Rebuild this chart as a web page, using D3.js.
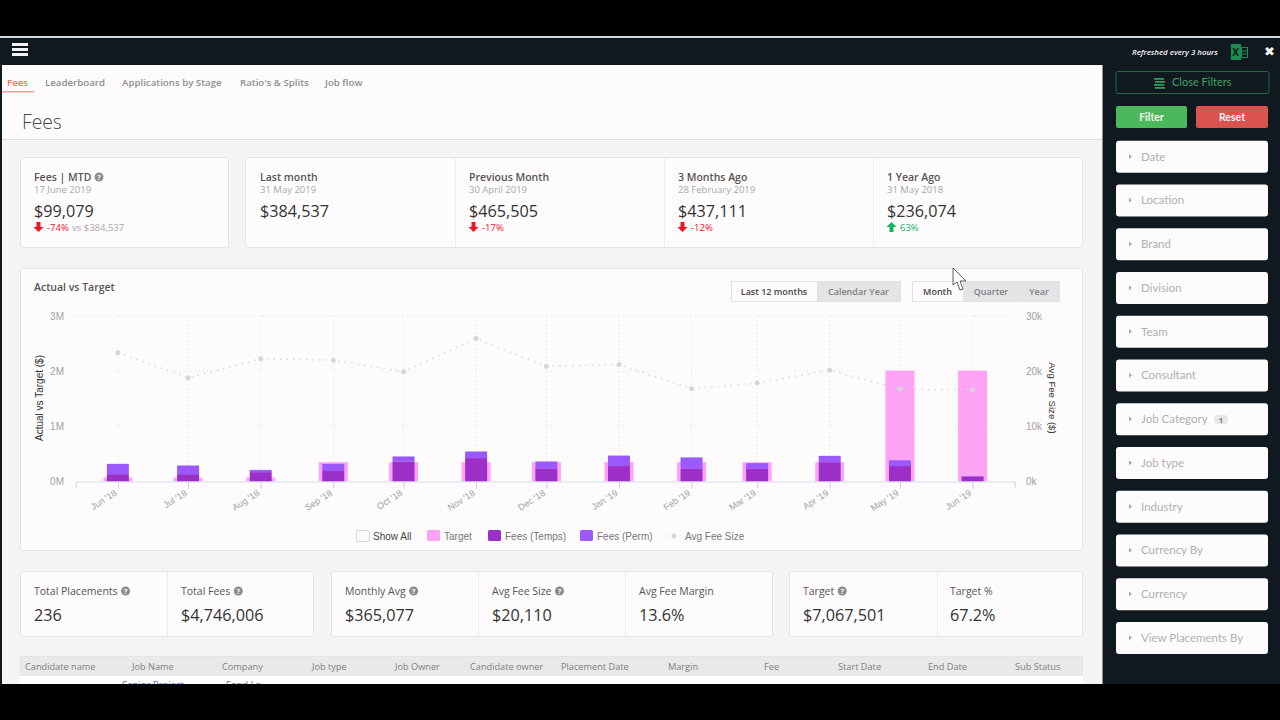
<!DOCTYPE html>
<html lang="en">
<head>
<meta charset="UTF-8">
<title>Fees dashboard</title>
<script src="https://d3js.org/d3.v7.min.js"></script>
<style>
    html, body { margin: 0; padding: 0; background: #000; overflow: hidden; }
    svg { display: block; }
    text { font-family: "Open Sans", sans-serif; }
    .axis text { font-family: "Liberation Sans", sans-serif; font-size: 10px; fill: #a0a0a0; }
    .side text { font-family: Lato, sans-serif; }
</style>
</head>
<body>
<script>
// chart data
const months = ["2018-06-01","2018-07-01","2018-08-01","2018-09-01","2018-10-01","2018-11-01","2018-12-01",
                "2019-01-01","2019-02-01","2019-03-01","2019-04-01","2019-05-01","2019-06-01"];
const target = [70000,70000,70000,350000,350000,350000,350000,350000,350000,350000,350000,2010000,2010000];
const feesTemps = [133000,133000,170000,190000,365000,425000,230000,280000,230000,230000,350000,280000,90000];
const feesPerm = [187000,157000,40000,130000,89000,119000,133000,190000,207000,103000,115000,104537,9079];
const avgFee = [23350,18800,22260,22000,19900,25900,20870,21200,16800,17850,20200,16750,16600];
const leftTicks = [0,1000000,2000000,3000000];
const rightTicks = [0,10000,20000,30000];

// page content
const tabs = ["Fees","Leaderboard","Applications by Stage","Ratio's & Splits","Job flow"];
const tabX = [7,45,122,240,325];
const filters = ["Date","Location","Brand","Division","Team","Consultant","Job Category","Job type","Industry","Currency By","Currency","View Placements By"];
const kpiTitles = ["Fees | MTD","Last month","Previous Month","3 Months Ago","1 Year Ago"];
const kpiDates = ["17 June 2019","31 May 2019","30 April 2019","28 February 2019","31 May 2018"];
const kpiValues = ["$99,079","$384,537","$465,505","$437,111","$236,074"];
const kpiChange = ["-74%",null,"-17%","-12%","63%"];
const kpiX = [34,260,469,678,887];
const statTitles = ["Total Placements","Total Fees","Monthly Avg","Avg Fee Size","Avg Fee Margin","Target","Target %"];
const statValues = ["236","$4,746,006","$365,077","$20,110","13.6%","$7,067,501","67.2%"];
const statX = [34,181,345,492,639,803,950];
const statHelp = [true,true,true,true,false,true,false];
const tableCols = ["Candidate name","Job Name","Company","Job type","Job Owner","Candidate owner","Placement Date","Margin","Fee","Start Date","End Date","Sub Status"];
const tableX = [25,132,222,312,395,470,561,668,764,838,928,1015];

const panel = "#fefbfd", edge = "#e2e4e6", dark = "#101820";
const cTarget = "#fda3f5", cTemps = "#9b2fc8", cPerm = "#9b59fb", cLine = "#d6d6da";

const svg = d3.select("body").append("svg").attr("width",1280).attr("height",720);

function box(x,y,w,h,fill,stroke,r) {
    return svg.append("rect").attr("x",x).attr("y",y).attr("width",w).attr("height",h)
        .attr("fill",fill).attr("stroke",stroke || "none").attr("rx",r || 0);
}
function label(parent,x,y,str,size,color,weight) {
    return parent.append("text").attr("x",x).attr("y",y).text(str)
        .style("font-size",size+"px").attr("fill",color).style("font-weight",weight || 400);
}
function vline(x,y1,y2) {
    svg.append("line").attr("x1",x).attr("x2",x).attr("y1",y1).attr("y2",y2).attr("stroke","#eceef0");
}
function help(x,y) {
    svg.append("circle").attr("cx",x).attr("cy",y).attr("r",4.5).attr("fill","#8c8c8c");
    label(svg,x,y+3,"?",7.5,panel,700).attr("text-anchor","middle");
}
function arrow(x,y,up,color) {
    const p = up ? "M0,-5L5,0L2,0L2,5L-2,5L-2,0L-5,0Z" : "M0,5L5,0L2,0L2,-5L-2,-5L-2,0L-5,0Z";
    svg.append("path").attr("d",p).attr("fill",color).attr("transform",`translate(${x},${y})`);
}

// page frame
box(0,36,1280,2,"#d8d8d8");
box(0,38,1280,646,dark);
box(2,65,1100,620,"#f3f4f4");
box(2,65,1100,74,panel);
box(2,139,1100,1,"#dcdede");
box(1102,65,1,620,"#8b9096");

box(12,43,16,3,"#f2f2f2"); box(12,48,16,3,"#f2f2f2"); box(12,53,16,3,"#f2f2f2");
label(svg,1132,55,"Refreshed every 3 hours",7.85,"#f4f4f4",600).style("font-style","italic");
box(1231,44,10,16,"#1f8a4d");
label(svg,1232.3,56,"X",10,dark,700);
box(1241.5,47.5,6,10,"none","#1f8a4d");
svg.append("line").attr("x1",1241).attr("x2",1248).attr("y1",51).attr("y2",51).attr("stroke","#1f8a4d");
svg.append("line").attr("x1",1241).attr("x2",1248).attr("y1",54).attr("y2",54).attr("stroke","#1f8a4d");
label(svg,1269.5,56,"✖",13,"#f4f4f4",700).attr("text-anchor","middle").style("font-family","DejaVu Sans");

// tabs + title
svg.selectAll(".tab").data(tabs).enter().append("text").attr("class","tab")
    .attr("x",(d,i) => tabX[i]).attr("y",86).text(d => d)
    .style("font-size","9.7px").style("font-weight",600)
    .attr("fill",(d,i) => i === 0 ? "#f5785a" : "#8f8f8f");
box(2,91,32,1.5,"#f9a08c");
label(svg,22,129,"Fees",19.3,"#4a4a4a",300);

// kpi cards
box(20.5,157.5,208,90,panel,edge,2);
box(245.5,157.5,837,90,panel,edge,2);
[455,664,873].forEach(x => vline(x+0.5,158,247));
kpiTitles.forEach((t,i) => {
    label(svg,kpiX[i],181,t,10.5,"#555",600);
    label(svg,kpiX[i],193,kpiDates[i],9.5,"#a8a8a8");
    label(svg,kpiX[i],217,kpiValues[i],16.2,"#333");
    const c = kpiChange[i];
    if (c) {
        const up = c[0] !== "-", col = up ? "#11b55f" : "#f3141f";
        arrow(kpiX[i]+4.5,227,up,col);
        label(svg,kpiX[i]+13,231,c,9.5,col);
    }
});
help(99,177);
label(svg,72,231,"vs $384,537",9.5,"#a8a8a8");

// chart card
box(20.5,268.5,1062,282,panel,edge,2);
label(svg,34,291,"Actual vs Target",10.5,"#555",600);
[[731,86,panel,"Last 12 months","#444"],[817,83,"#e3e4e6","Calendar Year","#808080"],
 [912,51,panel,"Month","#444"],[963,56,"#e3e4e6","Quarter","#808080"],[1019,40,"#e3e4e6","Year","#808080"]].forEach(b => {
    box(b[0]+0.5,281.5,b[1],20,b[2],"#dfe1e3");
    label(svg,b[0]+b[1]/2,295,b[3],9,b[4],600).attr("text-anchor","middle");
});

const parse = d3.utcParse("%Y-%m-%d");
const dates = months.map(parse);
const x = d3.scaleUtc().domain([parse("2018-05-14"),parse("2019-06-19")]).range([75.7,1014.7]);
const y = d3.scaleLinear().domain([0,3000000]).range([481.5,316]);
const yAvg = d3.scaleLinear().domain([0,30000]).range([481.5,316]);
const fmtMonth = d3.utcFormat("%b '%y");

// dotted grid
svg.selectAll(".gridH").data(leftTicks.slice(1)).enter().append("line").attr("class","gridH")
    .attr("x1",75).attr("x2",1014).attr("y1",d => y(d)).attr("y2",d => y(d))
    .attr("stroke","#dfe2e5").attr("stroke-dasharray","1 3");
svg.selectAll(".gridV").data(dates).enter().append("line").attr("class","gridV")
    .attr("x1",d => x(d)).attr("x2",d => x(d)).attr("y1",316).attr("y2",481.5)
    .attr("stroke","#dfe2e5").attr("stroke-dasharray","1 3");

// bars
const tw = 29, bw = 22;
svg.selectAll(".target").data(dates).enter().append("rect").attr("class","target")
    .attr("x",d => x(d)-tw/2).attr("width",tw)
    .attr("y",(d,i) => y(target[i])).attr("height",(d,i) => y(0)-y(target[i]))
    .attr("fill",cTarget);
svg.selectAll(".temps").data(dates).enter().append("rect").attr("class","temps")
    .attr("x",d => x(d)-bw/2).attr("width",bw)
    .attr("y",(d,i) => y(feesTemps[i])).attr("height",(d,i) => y(0)-y(feesTemps[i]))
    .attr("fill",cTemps);
svg.selectAll(".perm").data(dates).enter().append("rect").attr("class","perm")
    .attr("x",d => x(d)-bw/2).attr("width",bw)
    .attr("y",(d,i) => y(feesTemps[i]+feesPerm[i])).attr("height",(d,i) => y(0)-y(feesPerm[i]))
    .attr("fill",cPerm);

// axes
const xAxis = svg.append("g").attr("class","axis").attr("transform","translate(0,481.5)")
    .call(d3.axisBottom(x).tickValues(dates).tickFormat(fmtMonth).tickSize(7).tickPadding(3));
xAxis.select(".domain").attr("stroke","#d3e0e8").attr("stroke-width",1.2);
xAxis.selectAll("line").attr("stroke","#c9d6de");
xAxis.selectAll("text").attr("text-anchor","end").attr("x",0).attr("y",0).attr("dy",0)
    .attr("transform","translate(-1,13) rotate(-33)").style("font-size","9px");

const yAxisL = svg.append("g").attr("class","axis").attr("transform","translate(64,0)")
    .call(d3.axisLeft(y).tickValues(leftTicks).tickFormat(d => (d/1000000)+"M").tickSize(0).tickPadding(0));
yAxisL.select(".domain").remove();
const yAxisR = svg.append("g").attr("class","axis").attr("transform","translate(1026,0)")
    .call(d3.axisRight(yAvg).tickValues(rightTicks).tickFormat(d => (d/1000)+"k").tickSize(0).tickPadding(0));
yAxisR.select(".domain").remove();

label(svg,0,0,"Actual vs Target ($)",10,"#333").attr("text-anchor","middle")
    .attr("transform","translate(43,398) rotate(-90)").style("font-family","Liberation Sans");
label(svg,0,0,"Avg Fee Size ($)",9.6,"#333").attr("text-anchor","middle")
    .attr("transform","translate(1049,398) rotate(90)").style("font-family","Liberation Sans");

// avg fee line
const line = d3.line().x((d,i) => x(dates[i])).y(d => yAvg(d));
svg.append("path").attr("d",line(avgFee)).attr("fill","none").attr("stroke",cLine)
    .attr("stroke-width",1.5).attr("stroke-dasharray","1.5 5");
svg.selectAll(".avg").data(avgFee).enter().append("circle").attr("class","avg")
    .attr("cx",(d,i) => x(dates[i])).attr("cy",d => yAvg(d)).attr("r",2.5).attr("fill",cLine);

// legend
const legNames = ["Show All","Target","Fees (Temps)","Fees (Perm)"];
const legX = [356,427,488,580];
const legFill = [panel,cTarget,cTemps,cPerm];
legNames.forEach((n,i) => {
    box(legX[i]+(i === 0 ? 0.5 : 0),530+(i === 0 ? 0.5 : 0),13,11,legFill[i],i === 0 ? "#cfdce3" : null,1.5);
    label(svg,legX[i]+17,540,n,10,i === 0 ? "#444" : "#777").style("font-family","Liberation Sans");
});
svg.append("line").attr("x1",667).attr("x2",681).attr("y1",536).attr("y2",536)
    .attr("stroke",cLine).attr("stroke-dasharray","1.5 4");
svg.append("circle").attr("cx",674).attr("cy",536).attr("r",2.5).attr("fill",cLine);
label(svg,685,540,"Avg Fee Size",10,"#777").style("font-family","Liberation Sans");

// stat cards
box(20.5,571.5,293,65,panel,edge,2);
box(331.5,571.5,441,65,panel,edge,2);
box(789.5,571.5,293,65,panel,edge,2);
[167,478,625,937].forEach(v => vline(v+0.5,572,636));
statTitles.forEach((t,i) => {
    const tt = label(svg,statX[i],595,t,10.5,"#555");
    label(svg,statX[i],621,statValues[i],16.2,"#333");
    if (statHelp[i]) help(statX[i]+tt.node().getComputedTextLength()+8,591);
});

// table
box(20,657,1063,27,"#fff");
box(20.5,656.5,1062,19,"#e9e9ea","#e2e4e6");
tableCols.forEach((c,i) => label(svg,tableX[i],669.5,c,9.2,"#808080"));
label(svg,122,688,"Senior Project",9.5,"#4a6fd6");
label(svg,226,688,"Food Lo",9.5,"#777");

// right filter bar
const side = svg.append("g").attr("class","side");
svg.append("rect").attr("x",1116).attr("y",71.5).attr("width",153).attr("height",22).attr("rx",2)
    .attr("fill","none").attr("stroke","#23663f");
[78,81,84,87].forEach((v,i) => box(1154+(i%2),v,10,1.8,"#2f9a59"));
label(side,1172,86,"Close Filters",11,"#3fa45f");
side.append("rect").attr("x",1116).attr("y",106).attr("width",71).attr("height",22).attr("rx",2).attr("fill","#4cb85c");
side.append("rect").attr("x",1196).attr("y",106).attr("width",72).attr("height",22).attr("rx",2).attr("fill","#d9534f");
label(side,1151.5,121,"Filter",10.5,"#f4f4f4",700).attr("text-anchor","middle");
label(side,1232,121,"Reset",10.5,"#f4f4f4",700).attr("text-anchor","middle");
side.selectAll(".filter").data(filters).enter().append("rect").attr("class","filter")
    .attr("x",1116).attr("width",152).attr("height",32).attr("rx",3)
    .attr("y",(d,i) => 140.7+i*43.75).attr("fill",panel);
side.selectAll(".caret").data(filters).enter().append("path").attr("class","caret")
    .attr("d","M0,-2.5L3,0L0,2.5Z").attr("fill","#a8a8a8")
    .attr("transform",(d,i) => `translate(1129,${156.5+i*43.75})`);
side.selectAll(".fname").data(filters).enter().append("text").attr("class","fname")
    .attr("x",1141).attr("y",(d,i) => 160.5+i*43.75).text(d => d)
    .style("font-size","11.5px").attr("fill","#b0b0b0");
box(1214,415,14,9,"#e6e8e8",null,4);
label(svg,1221,422.5,"1",7.5,"#777",700).attr("text-anchor","middle");

// mouse pointer
svg.append("path").attr("d","M953,268L953,285L957,282L960,290L963,289L960,281L966,281Z")
    .attr("fill","#fff").attr("stroke","#333").attr("stroke-width",0.8);

// black bands of the recording
box(0,0,1280,36,"#000");
box(0,684,1280,36,"#000");
</script>
</body>
</html>
